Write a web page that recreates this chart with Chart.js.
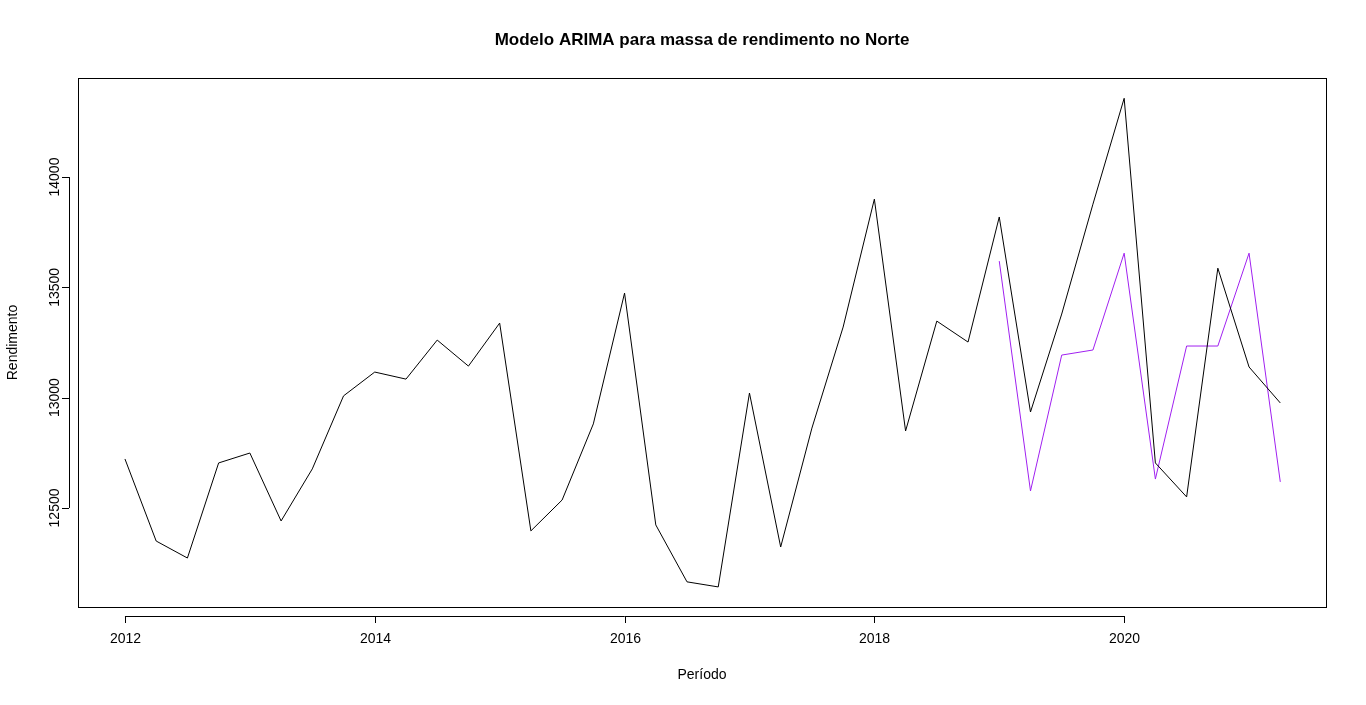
<!DOCTYPE html>
<html><head><script src="https://cdn.jsdelivr.net/npm/chart.js@4"></script>
<style>body{margin:0;background:#fff}#w{width:1366px;height:705px}</style></head>
<body><div id="w"><canvas id="c"></canvas></div>
<script>
const periods=[];for(let i=0;i<38;i++)periods.push(2012+i*0.25);
const observed=[12722,12350,12273,12704,12749,12441,12677,13008,13116,13084,13261,13143,13338,12396,12536,12881,13474,12423,12165,12142,13021,12323,12862,13320,13900,12849,13347,13252,13819,12935,13379,13877,14357,12704,12550,13587,13139,12976];
const fitted=[13619,12577,13193,13216,13655,12631,13234,13234,13655,12618];
const fittedStart=28;
const xTicks=[2012,2014,2016,2018,2020];
const yTicks=[12500,13000,13500,14000];
const F='"Liberation Sans", Arial, sans-serif';
const deco={id:'deco',afterDraw(ch){
 const c=ch.ctx,a=ch.chartArea,xs=ch.scales.x,ys=ch.scales.y;
 c.save();c.strokeStyle='#000';c.lineWidth=1;c.fillStyle='#000';
 c.strokeRect(a.left+.5,a.top+.5,a.right-a.left,a.bottom-a.top);
 c.font='14px '+F;c.textAlign='center';c.textBaseline='top';
 const bx=a.bottom+9;
 c.beginPath();c.moveTo(xs.getPixelForValue(xTicks[0]),bx+.5);c.lineTo(xs.getPixelForValue(xTicks.at(-1)),bx+.5);
 xTicks.forEach(t=>{const p=Math.round(xs.getPixelForValue(t))+.5;c.moveTo(p,bx);c.lineTo(p,bx+7);c.fillText(t,p,bx+16);});
 c.stroke();
 const lx=a.left-9;
 c.beginPath();c.moveTo(lx+.5,ys.getPixelForValue(yTicks[0]));c.lineTo(lx+.5,ys.getPixelForValue(yTicks.at(-1)));
 yTicks.forEach(t=>{const p=Math.round(ys.getPixelForValue(t))+.5;c.moveTo(lx,p);c.lineTo(lx-7,p);});
 c.stroke();
 yTicks.forEach(t=>{const p=ys.getPixelForValue(t);c.save();c.translate(55,p);c.rotate(-Math.PI/2);c.textBaseline='middle';c.fillText(t,0,0);c.restore();});
 c.fillText('Período',(a.left+a.right)/2,668);
 c.save();c.translate(6,(a.top+a.bottom)/2);c.rotate(-Math.PI/2);c.fillText('Rendimento',0,0);c.restore();
 c.font='bold 17px '+F;c.fillText('Modelo ARIMA para massa de rendimento no Norte',(a.left+a.right)/2,32);
 c.restore();}};
new Chart(document.getElementById('c'),{type:'line',
 data:{datasets:[
  {data:periods.map((p,i)=>({x:p,y:observed[i]})),borderColor:'#000',borderWidth:1,pointRadius:0,tension:0},
  {data:fitted.map((v,i)=>({x:periods[fittedStart+i],y:v})),borderColor:'#a020f0',borderWidth:1,pointRadius:0,tension:0}]},
 options:{responsive:true,maintainAspectRatio:false,animation:false,
  layout:{padding:{left:78,right:40,top:78,bottom:98}},
  plugins:{legend:{display:false},tooltip:{enabled:false}},
  scales:{x:{type:'linear',display:false,min:2011.624,max:2021.616},
          y:{display:false,min:12051,max:14449}}},
 plugins:[deco]});
</script></body></html>
